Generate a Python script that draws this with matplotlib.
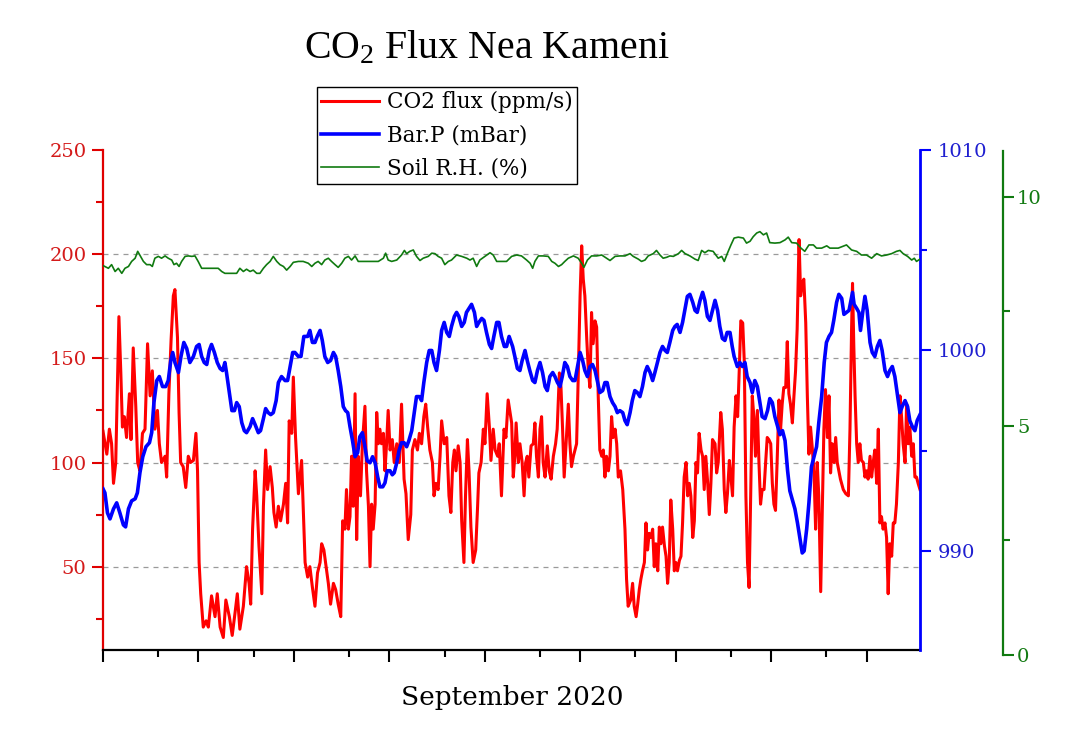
import numpy as np
import matplotlib
matplotlib.use("Agg")
import matplotlib.pyplot as plt
from matplotlib.ticker import FixedLocator, NullFormatter

plt.rcParams['font.family'] = ['DejaVu Serif']
plt.rcParams['mathtext.fontset'] = 'custom'
plt.rcParams['mathtext.rm'] = 'Liberation Serif'
plt.rcParams['mathtext.default'] = 'regular'

# ---------------- data (time in days from start of record) ----------------
co2_days = [0.00,0.12,0.20,0.27,0.33,0.40,0.50,0.56,0.61,0.67,0.74,0.83,0.88,0.95,1.03,1.09,1.16,1.24,1.32,1.40,
            1.48,1.55,1.63,1.71,1.77,1.84,1.95,2.00,2.07,2.14,2.21,2.26,2.34,2.39,2.44,2.52,2.60,2.68,2.75,2.84,
            2.92,2.97,3.02,3.07,3.15,3.24,3.31,3.41,3.52,3.59,3.68,3.78,3.86,3.97,4.06,4.15,4.22,4.30,4.41,4.51,
            4.59,4.64,4.70,4.78,4.83,4.90,4.99,5.04,5.11,5.17,5.25,5.32,5.37,5.44,5.51,5.58,5.67,5.74,5.80,5.85,
            5.93,5.98,6.05,6.14,6.24,
            6.35,6.43,6.50,6.58,6.66,6.74,6.82,6.87,6.94,7.01,7.08,7.15,7.24,7.31,7.39,7.47,7.53,7.60,7.65,7.71,
            7.76,7.81,7.86,7.92,7.97,8.02,8.09,8.15,8.23,8.28,8.34,8.39,8.44,8.49,8.55,8.60,8.65,8.70,8.75,8.81,
            8.86,8.91,8.96,9.02,9.09,9.15,9.23,9.31,9.38,9.46,9.52,9.59,9.67,9.72,9.80,9.88,9.94,10.01,10.08,10.14,
            10.20,10.27,10.35,10.40,10.46,10.53,10.59,10.64,10.72,10.80,10.87,10.93,10.99,11.04,11.09,11.16,11.22,
            11.27,11.34,11.39,11.45,11.50,11.56,11.63,11.71,11.77,11.81,11.88,11.95,12.00,12.07,12.14,12.19,12.26,
            12.32,12.40,12.45,12.52,12.60,12.66,12.73,
            12.84,12.89,12.94,12.98,13.05,13.10,13.17,13.23,13.28,13.33,13.38,13.45,13.52,13.57,13.62,13.68,13.73,
            13.78,13.83,13.89,13.96,14.02,14.08,14.15,14.22,14.27,14.34,14.39,14.44,14.49,14.55,14.62,14.67,14.72,
            14.78,14.83,14.88,14.93,14.99,15.04,15.09,15.14,15.20,15.25,15.30,15.35,15.40,15.46,15.51,15.56,15.61,
            15.67,15.72,15.77,15.82,15.88,15.93,15.98,16.03,16.09,16.14,16.19,16.26,16.33,16.40,16.45,16.50,16.58,
            16.64,16.69,16.75,16.80,16.85,16.90,16.95,17.01,17.06,17.11,17.16,17.22,17.27,17.32,17.37,17.43,17.48,
            17.53,17.58,17.64,17.69,17.74,17.79,17.84,17.90,17.95,18.00,18.05,18.11,18.16,18.21,18.26,18.32,18.37,
            18.42,18.47,18.53,18.58,18.63,18.68,18.73,18.79,18.84,18.89,18.94,19.00,19.05,19.10,19.15,
            19.23,19.28,19.33,19.41,19.46,19.52,19.57,19.62,19.68,19.73,19.78,19.83,19.89,19.94,19.99,20.04,20.10,
            20.15,20.20,20.25,20.30,20.35,20.40,20.45,20.50,20.56,20.61,20.66,20.71,20.77,20.82,20.87,20.92,20.98,
            21.03,21.08,21.13,21.18,21.24,21.29,21.34,21.39,21.45,21.50,21.55,21.60,21.66,21.71,21.76,21.81,21.87,
            21.92,21.97,22.02,22.08,22.13,22.18,22.23,22.28,22.34,22.39,22.44,22.49,22.55,22.60,22.65,22.70,22.76,
            22.81,22.86,22.91,22.97,23.02,23.07,23.12,23.17,23.26,23.34,23.42,23.47,23.52,23.55,23.59,23.63,23.68,
            23.73,23.78,23.83,23.89,23.94,23.99,24.04,24.10,24.15,24.20,24.25,24.31,24.36,24.41,24.46,24.51,24.57,
            24.62,24.67,24.72,24.78,24.83,24.88,24.93,24.99,25.04,25.09,25.14,25.20,25.25,25.30,25.35,25.41,25.46,
            25.51,25.56,25.61,25.67]
co2_flux = [115,104,116,109,90,100,170,143,117,122,112,133,111,155,127,100,96,114,116,157,
            132,144,116,125,109,100,103,93,133,159,180,183,160,124,100,98,88,103,100,101,
            114,96,52,37,21,24,21,36,26,37,21,16,34,26,17,28,37,20,31,50,
            42,32,68,96,84,60,37,79,106,87,98,88,76,69,79,72,80,90,71,120,
            114,141,112,85,101,
            52,45,50,40,31,47,52,61,58,50,42,32,42,39,32,26,72,68,87,68,
            74,103,79,133,63,103,84,109,127,96,79,50,80,68,80,124,109,116,109,114,
            96,109,125,106,111,100,109,100,128,92,85,63,75,106,111,106,114,109,122,128,
            117,106,100,84,90,87,103,120,109,112,84,76,100,106,96,108,100,
            72,52,84,111,96,69,52,58,79,95,100,116,109,133,117,101,116,
            106,103,109,84,116,112,130,
            119,93,103,119,100,109,100,84,100,103,93,108,109,119,103,93,116,
            122,100,93,108,96,92,103,109,116,143,136,116,93,109,128,109,98,
            103,106,109,140,180,204,188,180,159,144,136,172,157,168,165,132,106,
            103,106,93,103,96,103,122,112,116,109,93,96,87,68,44,31,34,
            42,31,26,32,39,44,48,52,71,58,66,64,68,50,61,48,69,
            61,69,60,55,42,52,82,68,48,52,48,53,55,71,93,100,84,
            90,84,64,72,100,95,114,106,103,87,103,90,75,90,111,
            109,95,100,124,116,87,76,85,101,93,84,117,132,122,144,168,167,
            148,84,52,40,84,132,122,103,125,100,80,87,87,100,112,111,109,
            90,80,77,100,130,116,128,136,136,158,133,128,119,132,144,164,207,
            180,186,188,167,132,104,117,108,95,68,100,84,38,76,116,135,112,
            132,95,109,100,112,100,96,92,87,85,84,116,164,186,156,132,109,
            100,109,101,100,93,96,92,103,93,100,106,90,116,71,74,68,71,
            64,37,61,55,71,71,80,100,132,122,109,100,128,109,117,103,109,
            93,93,90,87]

bar_days = [0.00,0.06,0.14,0.22,0.33,0.43,0.53,0.64,0.71,0.80,0.90,1.01,1.08,1.16,1.25,1.35,1.46,1.53,1.60,1.69,
            1.77,1.87,1.97,2.05,2.13,2.19,2.26,2.37,2.45,2.54,2.63,2.73,2.84,2.94,3.02,3.10,3.18,3.26,3.34,3.41,
            3.50,3.59,3.68,3.76,3.83,3.88,3.97,4.05,4.13,4.20,4.28,4.36,4.44,4.51,4.62,4.70,4.78,4.88,4.95,5.04,
            5.11,5.19,5.27,5.35,5.44,5.51,5.61,5.72,5.80,5.88,5.96,6.03,6.14,6.22,6.31,
            6.43,6.50,6.58,6.66,6.73,6.82,6.89,6.97,7.06,7.15,7.24,7.31,7.39,7.47,7.55,7.62,7.69,7.76,7.84,7.92,
            8.00,8.07,8.15,8.23,8.30,8.39,8.47,8.55,8.63,8.70,8.79,8.86,8.93,9.02,9.09,9.15,9.23,9.30,9.38,9.46,
            9.54,9.61,9.70,9.78,9.85,9.94,10.01,10.08,10.17,10.25,10.33,10.40,10.48,10.57,10.64,10.72,10.80,10.88,
            10.95,11.04,11.11,11.18,11.27,11.35,11.42,11.50,11.58,11.67,11.74,11.81,11.90,11.97,12.05,12.14,12.21,
            12.28,12.37,12.44,12.52,12.61,12.68,12.76,
            12.87,12.94,13.02,13.10,13.17,13.26,13.33,13.41,13.50,13.57,13.65,13.73,13.81,13.89,13.96,14.04,14.13,
            14.20,14.28,14.36,14.43,14.51,14.59,14.67,14.76,14.83,14.91,14.99,15.07,15.14,15.22,15.30,15.38,15.46,
            15.53,15.61,15.70,15.77,15.84,15.93,16.01,16.09,16.16,16.24,16.33,16.40,16.47,16.56,16.63,16.71,16.79,
            16.87,16.95,17.03,17.10,17.19,17.27,17.34,17.42,17.50,17.58,17.66,17.73,17.81,17.90,17.97,18.04,18.13,
            18.21,18.28,18.36,18.44,18.53,18.60,18.67,18.76,18.84,18.91,18.99,19.07,19.15,
            19.23,19.31,19.38,19.46,19.54,19.61,19.70,19.77,19.83,19.93,20.01,20.09,20.17,20.24,20.33,20.40,20.48,
            20.56,20.64,20.71,20.80,20.88,20.95,21.03,21.11,21.20,21.27,21.35,21.43,21.51,21.58,21.67,21.74,21.82,
            21.90,21.97,22.03,22.11,22.18,22.26,22.34,22.42,22.49,22.58,22.66,22.73,22.81,22.89,22.96,23.05,23.12,
            23.21,23.28,23.36,23.44,23.50,23.55,23.60,23.68,23.75,23.80,23.87,23.94,24.01,24.10,24.17,24.25,24.33,
            24.41,24.48,24.57,24.65,24.72,24.80,24.88,24.97,25.04,25.11,25.20,25.28,25.35,25.43,25.51,25.58,25.67]
bar_p = [993.1,992.9,991.9,991.6,992.1,992.4,991.9,991.3,991.2,992.1,992.5,992.6,992.9,993.9,994.7,995.2,995.4,995.9,997.4,998.5,
         998.7,998.2,998.2,998.5,999.5,999.9,999.4,998.9,999.7,1000.4,1000.1,999.4,999.7,1000.2,1000.3,999.7,999.4,999.3,1000.0,1000.3,
         999.9,999.4,999.1,999.0,999.4,998.9,997.9,997.0,997.0,997.4,997.2,996.4,996.0,995.9,996.2,996.6,996.3,995.9,996.0,996.6,
         997.1,996.9,996.8,996.9,997.5,998.4,998.7,998.5,998.5,999.2,999.9,999.9,999.7,999.7,1000.7,
         1000.7,1001.0,1000.4,1000.4,1000.7,1001.0,1000.5,999.7,999.4,999.5,999.9,999.7,999.0,998.2,997.2,997.0,996.9,996.2,995.5,994.7,
         994.9,995.7,995.9,995.2,994.5,994.4,994.7,994.4,993.7,993.2,993.2,993.4,994.0,994.0,993.8,993.9,994.4,995.0,995.4,995.4,
         995.2,995.5,996.0,996.9,997.7,997.7,997.5,998.4,999.4,1000.0,1000.0,999.4,999.0,1000.0,1001.0,1001.4,1000.9,1000.7,
         1001.2,1001.7,1001.9,1001.7,1001.2,1001.4,1001.9,1002.1,1002.3,1001.9,1001.2,1001.4,1001.6,1001.5,1000.9,1000.3,1000.1,
         1000.7,1001.4,1001.4,1000.7,1000.2,1000.2,1000.7,
         1000.2,999.7,999.1,999.0,999.5,1000.0,999.5,999.0,998.5,998.4,999.0,999.4,998.9,998.2,998.0,998.7,998.9,
         998.7,998.4,998.2,998.7,999.4,999.2,998.7,998.5,998.5,999.2,999.9,999.5,999.0,998.7,999.2,999.3,999.0,
         998.5,997.9,998.0,998.4,998.4,997.7,997.4,997.2,996.9,997.0,996.9,996.5,996.3,996.9,997.5,998.0,997.9,
         997.7,998.2,998.9,999.2,998.9,998.5,998.9,999.4,999.9,1000.2,1000.0,999.9,1000.4,1001.0,1001.2,1001.3,1000.9,
         1001.4,1002.0,1002.7,1002.8,1002.4,1002.0,1001.9,1002.5,1002.9,1002.5,1001.7,1001.5,1002.0,
         1002.5,1002.0,1001.2,1000.6,1000.5,1000.9,1000.9,1000.2,999.7,999.2,999.4,999.2,999.4,998.7,998.4,997.9,998.5,
         998.2,997.4,996.7,996.6,997.0,997.6,997.4,996.7,996.2,995.8,996.0,995.5,994.0,993.0,992.5,992.1,991.4,
         990.6,989.9,990.0,991.1,992.4,994.2,994.7,995.2,996.4,997.7,999.4,1000.4,1000.7,1000.9,1001.5,1002.4,1002.8,
         1002.6,1001.8,1001.9,1002.0,1002.5,1002.9,1002.3,1002.1,1001.9,1001.0,1001.9,1002.7,1002.0,1000.4,999.9,999.7,1000.2,
         1000.5,1000.0,999.0,998.7,999.0,999.2,998.7,997.7,996.9,997.2,997.5,997.2,996.5,996.2,996.0,996.5,996.8]

rh_days = [0.00,0.17,0.27,0.38,0.48,0.59,0.69,0.80,0.90,1.01,1.09,1.18,1.27,1.37,1.48,1.55,1.63,1.74,1.84,1.95,
           2.05,2.16,2.23,2.31,2.39,2.47,2.58,2.68,2.79,2.89,2.99,3.10,3.26,3.47,3.62,3.73,3.83,3.94,4.10,4.20,
           4.30,4.41,4.51,4.62,4.72,4.83,4.93,5.04,5.14,5.25,5.35,5.46,5.56,5.67,5.77,5.88,5.98,6.14,6.29,
           6.45,6.56,6.66,6.76,6.87,6.97,7.08,7.18,7.29,7.39,7.50,7.60,7.71,7.81,7.92,8.02,8.23,8.44,8.65,8.81,
           8.88,8.96,9.07,9.23,9.38,9.47,9.54,9.64,9.75,9.85,9.96,10.06,10.22,10.33,10.43,10.53,10.64,10.74,10.85,
           10.95,11.11,11.27,11.43,11.53,11.63,11.74,11.84,12.00,12.16,12.26,12.37,12.52,12.68,12.84,
           12.89,13.00,13.15,13.31,13.42,13.50,13.57,13.68,13.83,13.99,14.10,14.20,14.31,14.41,14.51,14.62,14.78,
           14.93,15.04,15.11,15.22,15.35,15.51,15.67,15.82,15.93,16.09,16.24,16.40,16.56,16.66,16.82,16.92,17.03,
           17.13,17.29,17.39,17.50,17.60,17.71,17.81,17.92,18.08,18.18,18.29,18.44,18.60,18.70,18.81,18.91,19.02,19.17,
           19.33,19.44,19.52,19.62,19.73,19.83,19.96,20.12,20.22,20.33,20.43,20.54,20.64,20.75,20.85,20.95,21.11,
           21.27,21.43,21.53,21.64,21.79,21.93,22.05,22.18,22.32,22.42,22.58,22.74,22.84,23.10,23.36,23.52,23.68,
           23.83,23.99,24.15,24.31,24.46,24.62,24.78,24.93,25.04,25.14,25.28,25.41,25.49,25.56,25.67]
soil_rh = [8.50,8.44,8.52,8.37,8.44,8.33,8.44,8.48,8.59,8.66,8.81,8.70,8.59,8.52,8.52,8.48,8.66,8.70,8.66,8.71,
           8.66,8.62,8.52,8.55,8.48,8.59,8.70,8.71,8.70,8.71,8.59,8.44,8.44,8.44,8.44,8.37,8.33,8.33,8.33,8.33,
           8.44,8.37,8.42,8.37,8.40,8.33,8.33,8.44,8.52,8.59,8.70,8.59,8.52,8.48,8.40,8.48,8.57,8.59,8.59,
           8.55,8.48,8.55,8.59,8.52,8.62,8.66,8.59,8.52,8.46,8.55,8.66,8.70,8.62,8.71,8.59,8.59,8.59,8.59,8.66,
           8.77,8.62,8.59,8.62,8.73,8.83,8.76,8.81,8.84,8.70,8.61,8.66,8.70,8.77,8.76,8.70,8.66,8.52,8.59,
           8.62,8.73,8.70,8.66,8.62,8.66,8.48,8.62,8.70,8.78,8.73,8.59,8.59,8.59,8.70,
           8.71,8.73,8.71,8.62,8.55,8.44,8.59,8.71,8.71,8.70,8.59,8.55,8.48,8.52,8.59,8.66,8.71,
           8.66,8.55,8.46,8.62,8.71,8.71,8.73,8.66,8.61,8.70,8.71,8.71,8.76,8.70,8.64,8.59,8.62,
           8.71,8.76,8.83,8.73,8.66,8.68,8.71,8.70,8.76,8.83,8.76,8.71,8.64,8.61,8.83,8.78,8.83,8.81,
           8.66,8.70,8.59,8.77,8.95,9.10,9.12,9.10,8.99,9.03,9.13,9.21,9.24,9.17,9.21,9.00,8.99,
           9.00,9.06,9.12,9.00,8.99,8.88,8.81,8.95,8.95,8.88,8.88,8.93,8.88,8.88,8.95,8.84,8.81,
           8.73,8.73,8.66,8.76,8.71,8.73,8.76,8.81,8.83,8.76,8.70,8.62,8.66,8.59,8.64]

labels = ["CO2 flux (ppm/s)", "Bar.P (mBar)", "Soil R.H. (%)"]
co2_ticks = [50, 100, 150, 200, 250]
bar_ticks = [990, 1000, 1010]
rh_ticks = [0, 5, 10]

# ---------------- figure ----------------
W, H = 1080, 754
fig = plt.figure(figsize=(W / 100, H / 100), dpi=100)
L, R, B, T = 103, 920, 650, 150
ax = fig.add_axes([L / W, (H - B) / H, (R - L) / W, (B - T) / H])

RED, BLUE, GREEN = '#ff0000', '#0000ff', '#107a10'
RED_T, BLUE_T, GREEN_T = '#d41a1a', '#1f1fd0', '#127a12'
TICK_FS = 14

xmax = 25.67
ax.set_xlim(0, xmax)
ax.set_ylim(10, 250)
for v in [50, 100, 150, 200]:
    ax.axhline(v, color='#9a9a9a', lw=0.9, ls=(0, (4, 4)), zorder=0)
l1, = ax.plot(co2_days, co2_flux, color=RED, lw=2.2, zorder=2)

ax.spines['top'].set_visible(False)
ax.spines['right'].set_visible(False)
ax.spines['left'].set_color('#e00000')
ax.spines['left'].set_linewidth(1.6)
ax.spines['bottom'].set_color('black')
ax.spines['bottom'].set_linewidth(1.6)
ax.xaxis.set_major_locator(FixedLocator(np.arange(0, xmax, 3)))
ax.xaxis.set_minor_locator(FixedLocator(np.arange(1.73, xmax, 3)))
ax.xaxis.set_major_formatter(NullFormatter())
ax.tick_params(axis='x', which='major', length=8.5, width=1.5, color='black')
ax.tick_params(axis='x', which='minor', length=5, width=1.5, color='black')
ax.yaxis.set_major_locator(FixedLocator(co2_ticks))
ax.yaxis.set_minor_locator(FixedLocator([25, 75, 125, 175, 225]))
ax.tick_params(axis='y', which='major', length=8, width=1.5, color='#e00000',
               labelcolor=RED_T, labelsize=TICK_FS, pad=4)
ax.tick_params(axis='y', which='minor', length=5, width=1.5, color='#e00000')

# Barometric pressure axis
ax2 = ax.twinx()
ax2.set_ylim(985.06, 1010)
l2, = ax2.plot(bar_days, bar_p, color=BLUE, lw=2.6, zorder=3)
for s in ['top', 'left', 'bottom']:
    ax2.spines[s].set_visible(False)
ax2.spines['right'].set_color(BLUE)
ax2.spines['right'].set_linewidth(2.0)
ax2.yaxis.set_major_locator(FixedLocator(bar_ticks))
ax2.yaxis.set_minor_locator(FixedLocator([995, 1005]))
ax2.tick_params(axis='y', which='major', length=8, width=1.5, color=BLUE,
                labelcolor=BLUE_T, labelsize=TICK_FS, pad=5)
ax2.tick_params(axis='y', which='minor', length=5, width=1.5, color=BLUE)

# Soil RH axis (offset)
G_TOP, G_BOT = 151, 655
ax3 = fig.add_axes([L / W, (H - G_BOT) / H, (R - L) / W, (G_BOT - G_TOP) / H])
ax3.patch.set_visible(False)
ax3.set_xlim(0, xmax)
ax3.set_ylim(0, 11)
l3, = ax3.plot(rh_days, soil_rh, color=GREEN, lw=1.2, zorder=4)
for s in ['top', 'left', 'bottom']:
    ax3.spines[s].set_visible(False)
ax3.xaxis.set_visible(False)
ax3.yaxis.tick_right()
ax3.spines['right'].set_position(('axes', (1003 - L) / (R - L)))
ax3.spines['right'].set_color(GREEN)
ax3.spines['right'].set_linewidth(1.6)
ax3.yaxis.set_major_locator(FixedLocator(rh_ticks))
ax3.yaxis.set_minor_locator(FixedLocator([2.5, 7.5]))
ax3.tick_params(axis='y', which='major', length=8, width=1.5, color=GREEN,
                labelcolor=GREEN_T, labelsize=TICK_FS, pad=2)
ax3.tick_params(axis='y', which='minor', length=5, width=1.5, color=GREEN)

# Title, label, legend
fig.text(487 / W, 1 - 58 / H, 'CO$_2$ Flux Nea Kameni', ha='center', va='baseline',
         fontsize=28.7, color='black', family='Liberation Serif')
fig.text(512 / W, 1 - 705 / H, 'September 2020', ha='center', va='baseline',
         fontsize=19, color='black')
leg = fig.legend([l1, l2, l3], labels, loc='upper left',
                 bbox_to_anchor=(317 / W, 1 - 87 / H), bbox_transform=fig.transFigure,
                 fontsize=15.5, handlelength=2.7, handletextpad=0.33, labelspacing=0.51,
                 borderpad=0.2, borderaxespad=0, fancybox=False, framealpha=1,
                 edgecolor='black')
leg.get_frame().set_linewidth(1.0)

fig.savefig('out.png', dpi=100)
